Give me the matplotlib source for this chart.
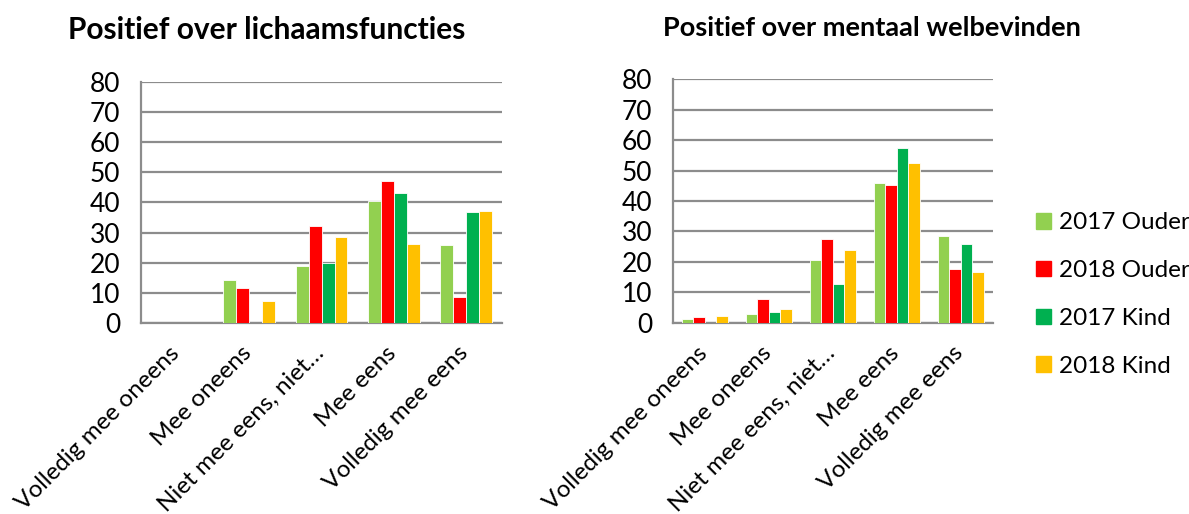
import numpy as np
import matplotlib.pyplot as plt
import matplotlib.transforms as mtransforms
from matplotlib.patches import Patch

plt.rcParams['font.family'] = ['Lato', 'DejaVu Sans']

categories = ['Volledig mee oneens', 'Mee oneens', 'Niet mee eens, niet…',
              'Mee eens', 'Volledig mee eens']
series = ['2017 Ouder', '2018 Ouder', '2017 Kind', '2018 Kind']
colors = ['#92D050', '#FF0000', '#00B050', '#FFC000']

# lichaamsfuncties
lichaam_2017_ouder = [0, 14.2, 18.9, 40.4, 26.0]
lichaam_2018_ouder = [0, 11.6, 32.3, 47.0, 8.6]
lichaam_2017_kind = [0, 0, 19.9, 43.3, 36.7]
lichaam_2018_kind = [0, 7.2, 28.7, 26.3, 37.3]

# mentaal welbevinden
mentaal_2017_ouder = [1.4, 3.1, 20.5, 46.0, 28.5]
mentaal_2018_ouder = [1.9, 7.8, 27.5, 45.2, 17.7]
mentaal_2017_kind = [0, 3.5, 12.9, 57.4, 26.0]
mentaal_2018_kind = [2.3, 4.7, 23.8, 52.4, 16.6]

yticks = [0, 10, 20, 30, 40, 50, 60, 70, 80]

fig = plt.figure(figsize=(11.89, 5.14), dpi=100)
ax1 = fig.add_axes([0.1186, 0.3716, 0.3036, 0.4689])
ax2 = fig.add_axes([0.566, 0.3716, 0.269, 0.4747])

grid_col = '#8C8C8C'
w = 0.18
x = np.arange(len(categories))
# shift the slanted category labels a little down and to the left
shift = mtransforms.ScaledTranslation(-6 / 72, -6 / 72, fig.dpi_scale_trans)


def draw(ax, data):
    for i, (vals, c) in enumerate(zip(data, colors)):
        ax.bar(x + (i - 1.5) * w, vals, width=w, color=c, edgecolor='white',
               linewidth=0.6, zorder=3)
    ax.set_xlim(-0.5, len(categories) - 0.5)
    ax.set_ylim(0, 80)
    ax.set_yticks(yticks)
    ax.yaxis.grid(True, color=grid_col, linewidth=1.6, zorder=0)
    ax.set_axisbelow(True)
    for s in ['top', 'right']:
        ax.spines[s].set_visible(False)
    for s in ['left', 'bottom']:
        ax.spines[s].set_color(grid_col)
        ax.spines[s].set_linewidth(1.6)
    ax.tick_params(axis='y', length=0, pad=15, labelsize=19)
    ax.tick_params(axis='x', length=0, pad=8)
    ax.set_xticks(x)
    ax.set_xticklabels(categories, rotation=45, ha='right',
                       rotation_mode='anchor', fontsize=17.5)
    for lab in ax.get_xticklabels():
        lab.set_transform(lab.get_transform() + shift)


draw(ax1, [lichaam_2017_ouder, lichaam_2018_ouder, lichaam_2017_kind,
           lichaam_2018_kind])
draw(ax2, [mentaal_2017_ouder, mentaal_2018_ouder, mentaal_2017_kind,
           mentaal_2018_kind])

fig.text(0.224, 0.942, 'Positief over lichaamsfuncties', ha='center',
         va='center', fontsize=21.5, fontweight='bold')
fig.text(0.733, 0.945, 'Positief over mentaal welbevinden', ha='center',
         va='center', fontsize=19.5, fontweight='bold')

handles = [Patch(color=c, label=s) for c, s in zip(colors, series)]
fig.legend(handles=handles, loc='center left', bbox_to_anchor=(0.853, 0.427),
           frameon=False, fontsize=17.5, handlelength=0.6, handleheight=0.6,
           handletextpad=0.35, labelspacing=1.1)

fig.savefig('out.png', dpi=100)
